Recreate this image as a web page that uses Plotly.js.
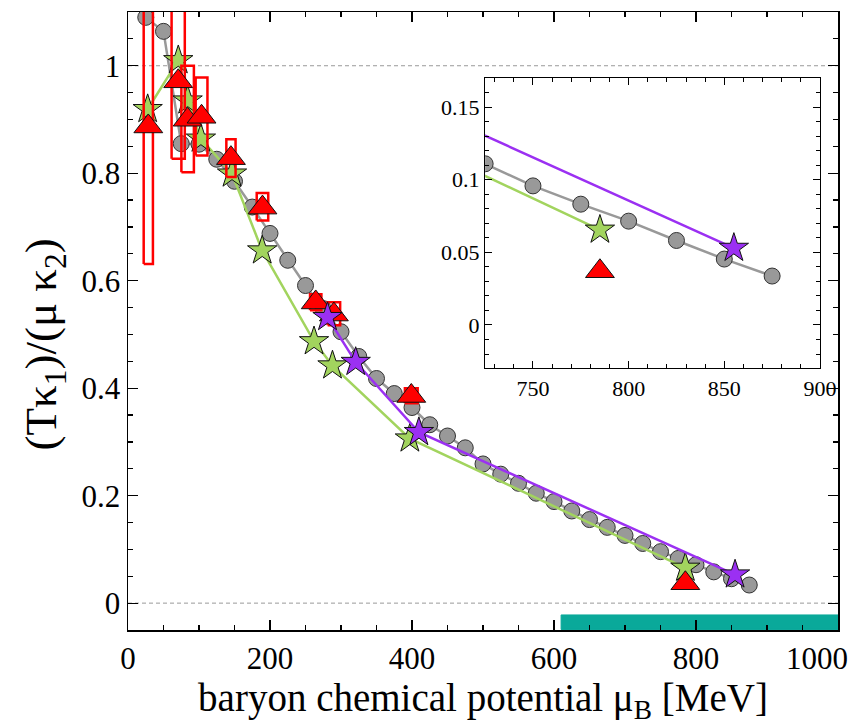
<!DOCTYPE html>
<html><head><meta charset="utf-8">
<script src="https://cdn.plot.ly/plotly-3.0.1.min.js"></script>
<style>html,body{margin:0;padding:0;background:#fff}</style>
</head><body><div id="chart" style="width:853px;height:727px"></div>
<script>
// ---- data ----
const grayMu  = [25,50,75,100,125,150,175,200,225,250,275,300,325,350,375,400,425,450,475,500,525,550,575,600,625,650,675,700,725,750,775,800,825,850,875];
const grayVal = [1.090,1.064,0.855,0.854,0.826,0.785,0.737,0.688,0.638,0.591,0.548,0.505,0.459,0.418,0.390,0.364,0.332,0.311,0.289,0.259,0.240,0.223,0.2045,0.189,0.1715,0.1555,0.141,0.126,0.111,0.0958,0.0832,0.0715,0.0582,0.0454,0.0337];

const greenMu  = [27.7,70.8,84,102.7,146.5,189,262,288,397,785];
const greenVal = [0.919,1.010,0.935,0.864,0.799,0.656,0.487,0.442,0.306,0.0655];

const purpleMu  = [281,320.7,409.7,855];
const purpleVal = [0.532,0.4485,0.318,0.053];

const redMu   = [28.6,70.7,84,103.6,145,189.4,264.4,290,399,785];
const redVal  = [0.887,0.971,0.8995,0.905,0.828,0.736,0.5595,0.537,0.3855,0.037];
const redLo   = [0.631,0.827,0.802,0.833,0.793,0.712,0.545,0.517,0.372,null];
const redHi   = [1.20,1.20,1.000,0.978,0.863,0.763,0.575,0.560,0.400,null];
const redHalfW= [6.5,9.3,8.8,8.3,6.5,8.1,8.0,8.8,9.0,null];

const bandMu  = [610,1000];
const bandLim = [-0.049,-0.022];

const refLinesMain = [0,1];
const refLinesInset = [0];

const xTicks = [0,200,400,600,800,1000];
const xTickText = ['0','200','400','600','800',''];
const xLastLabel = '1000';

// ---- styling ----
const GRAY='#999999', GREEN='#a2d45e', PURPLE='#9b30f2', RED='#ff0000', TEAL='#0aa99a';
const FONT='Liberation Serif, Times New Roman, serif';

// error boxes
const bx=[], by=[];
redMu.forEach((m,i)=>{
  if(redLo[i]===null) return;
  const w=redHalfW[i];
  bx.push(m-w,m+w,m+w,m-w,m-w,null);
  by.push(redLo[i],redLo[i],redHi[i],redHi[i],redLo[i],null);
});

function series(ax){
  const xa = ax===1?'x':'x2', ya = ax===1?'y':'y2';
  const out=[];
  out.push({x:grayMu,y:grayVal,mode:'lines+markers',xaxis:xa,yaxis:ya,
    line:{color:GRAY,width:2.5},
    marker:{symbol:'circle',size:16,color:GRAY,line:{color:'#333',width:1}}});
  out.push({x:greenMu,y:greenVal,mode:'lines+markers',xaxis:xa,yaxis:ya,
    line:{color:GREEN,width:2.5},
    marker:{symbol:'star',size:22,color:GREEN,line:{color:'#111',width:1}}});
  if(ax===1){
    out.push({x:bx,y:by,mode:'lines',xaxis:xa,yaxis:ya,line:{color:RED,width:2.5}});
  }
  out.push({x:redMu,y:redVal,mode:'markers',xaxis:xa,yaxis:ya,
    marker:{symbol:'triangle-up',size:25,color:RED,line:{color:'#111',width:1}}});
  out.push({x:purpleMu,y:purpleVal,mode:'lines+markers',xaxis:xa,yaxis:ya,
    line:{color:PURPLE,width:2.5},
    marker:{symbol:'star',size:22,color:PURPLE,line:{color:'#111',width:1}}});
  return out;
}

const traces=[];
// teal band
traces.push({x:[bandMu[0],bandMu[1],bandMu[1],bandMu[0],bandMu[0]],
  y:[bandLim[0],bandLim[0],bandLim[1],bandLim[1],bandLim[0]],
  mode:'lines',fill:'toself',fillcolor:TEAL,line:{color:TEAL,width:1},xaxis:'x',yaxis:'y'});
traces.push(...series(1));
traces.push(...series(2));

const shapes=[];
refLinesMain.forEach(v=>shapes.push({type:'line',xref:'x domain',x0:0,x1:1,yref:'y',y0:v,y1:v,layer:'below',line:{color:'#9a9a9a',width:1,dash:'4px,3px'}}));
refLinesInset.forEach(v=>shapes.push({type:'line',xref:'x2 domain',x0:0,x1:1,yref:'y2',y0:v,y1:v,layer:'below',line:{color:'#9a9a9a',width:1,dash:'4px,3px'}}));

const axMain={showline:true,linecolor:'#000',linewidth:1.5,mirror:'allticks',ticks:'inside',
  ticklen:10,tickwidth:1.2,tickcolor:'#000',showgrid:false,zeroline:false};
const layout={
  width:853,height:727,showlegend:false,
  paper_bgcolor:'#fff',plot_bgcolor:'#fff',
  margin:{l:128,r:15,t:12,b:97},
  font:{family:FONT,color:'#000'},
  xaxis:Object.assign({},axMain,{range:[0,1000],tickmode:'array',tickvals:xTicks,ticktext:xTickText,
    minor:{dtick:50,ticklen:5,tickcolor:'#000',ticks:'inside'},
    tickfont:{size:31,family:FONT},
    title:{text:'baryon chemical potential μ<sub>B</sub> [MeV]',font:{size:39,family:FONT},standoff:8},
    domain:[0,1],anchor:'y'}),
  yaxis:Object.assign({},axMain,{range:[-0.05,1.1],dtick:0.2,tick0:0,
    minor:{dtick:0.05,ticklen:5,tickcolor:'#000',ticks:'inside'},
    tickfont:{size:31,family:FONT},
    domain:[0,1],anchor:'x'}),
  xaxis2:{domain:[0.503,0.9746],anchor:'y2',range:[725,900],dtick:50,tick0:0,
    showline:true,linecolor:'#000',linewidth:1.2,mirror:'allticks',ticks:'inside',ticklen:7,tickwidth:1,tickcolor:'#000',
    minor:{dtick:10,ticklen:4,tickcolor:'#000',ticks:'inside'},
    showgrid:false,zeroline:false,tickfont:{size:22,family:FONT}},
  yaxis2:{domain:[0.424,0.893],anchor:'x2',range:[-0.0296,0.170],dtick:0.05,tick0:0,
    showline:true,linecolor:'#000',linewidth:1.2,mirror:'allticks',ticks:'inside',ticklen:7,tickwidth:1,tickcolor:'#000',
    minor:{dtick:0.01,ticklen:4,tickcolor:'#000',ticks:'inside'},
    showgrid:false,zeroline:false,tickfont:{size:22,family:FONT}},
  shapes:shapes,
  annotations:[
    {text:'(Tκ<sub>1</sub>)/(μ κ<sub>2</sub>)',xref:'paper',yref:'paper',
     x:-0.117,y:0.462,xanchor:'center',yanchor:'middle',textangle:-90,showarrow:false,
     font:{size:45,family:FONT,color:'#000'}},
    {text:xLastLabel,xref:'x',yref:'paper',x:xTicks[xTicks.length-1],y:0,xanchor:'right',yanchor:'top',
     xshift:12,yshift:-9,showarrow:false,font:{size:31,family:FONT,color:'#000'}}
  ]
};
Plotly.newPlot('chart',traces,layout,{staticPlot:true,displayModeBar:false});
</script></body></html>
